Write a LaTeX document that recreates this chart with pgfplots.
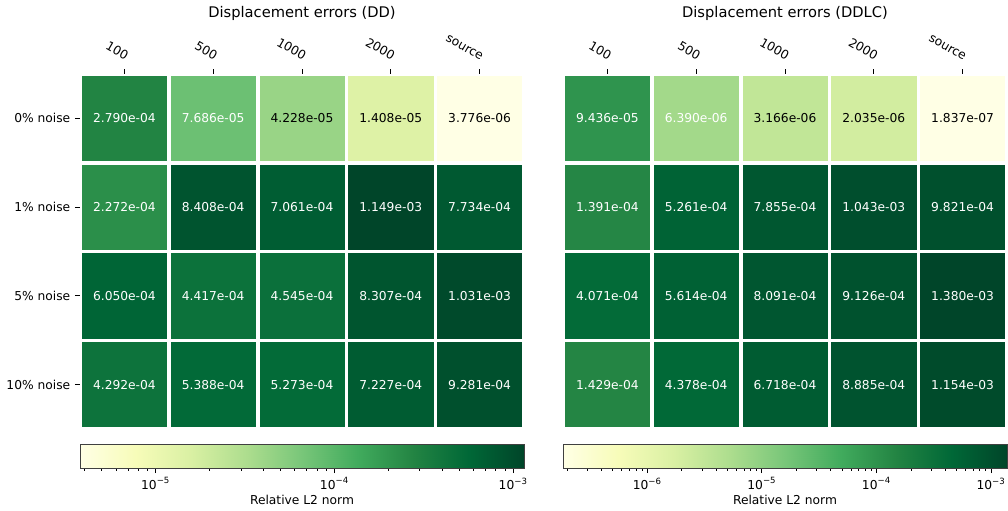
\documentclass[border=0pt]{standalone}
\usepackage{pgfplots}
\pgfplotsset{compat=1.18}
\usepackage{pgfplotstable}
\usepackage{fontspec}
\setmainfont{DejaVu Sans}

\pgfplotstableread{
x y v
0 3 2.790e-04
1 3 7.686e-05
2 3 4.228e-05
3 3 1.408e-05
4 3 3.776e-06
0 2 2.272e-04
1 2 8.408e-04
2 2 7.061e-04
3 2 1.149e-03
4 2 7.734e-04
0 1 6.050e-04
1 1 4.417e-04
2 1 4.545e-04
3 1 8.307e-04
4 1 1.031e-03
0 0 4.292e-04
1 0 5.388e-04
2 0 5.273e-04
3 0 7.227e-04
4 0 9.281e-04
}\dd

\pgfplotstableread{
x y v
0 3 9.436e-05
1 3 6.390e-06
2 3 3.166e-06
3 3 2.035e-06
4 3 1.837e-07
0 2 1.391e-04
1 2 5.261e-04
2 2 7.855e-04
3 2 1.043e-03
4 2 9.821e-04
0 1 4.071e-04
1 1 5.614e-04
2 1 8.091e-04
3 1 9.126e-04
4 1 1.380e-03
0 0 1.429e-04
1 0 4.378e-04
2 0 6.718e-04
3 0 8.885e-04
4 0 1.154e-03
}\ddlc

\newcommand{\lf}{\fontsize{9.2}{11}\selectfont}
\newcommand{\tf}{\fontsize{11}{13}\selectfont}

\pgfplotsset{
  ylgn/.style={colormap={ylgn}{rgb255=(255,255,229) rgb255=(247,252,185) rgb255=(217,240,163) rgb255=(173,221,142) rgb255=(120,198,121) rgb255=(65,171,93) rgb255=(35,132,67) rgb255=(0,104,55) rgb255=(0,69,41)}},
  heat/.style={
    ylgn,
    scale only axis, width=333pt, height=266.25pt,
    xmin=-0.5, xmax=4.5, ymin=-0.5, ymax=3.5,
    axis x line*=top, axis y line*=left,
    axis line style={draw=none},
    xtick={0,1,2,3,4}, xticklabels={100,500,1000,2000,source},
    tick align=outside, major tick length=3.75pt,
    tick style={black, line width=0.6pt},
    xticklabel style={yshift=4.5pt, xshift=1pt, rotate=-30, anchor=south east, inner sep=1pt},
    tick label style={font=\lf},
    clip=false,
  },
  cbar/.style={
    ylgn,
    anchor=north west,
    scale only axis, width=333pt, height=18pt,
    ymin=0, ymax=1, ytick=\empty,
    axis on top,
    axis line style={draw=black!75, line width=0.6pt},
    xtick pos=left, tick align=outside,
    tick style={black, line width=0.6pt},
    major tick length=3.75pt, minor tick length=2.2pt,
    tick label style={font=\lf},
    xlabel={Relative L2 norm}, xlabel style={font=\lf, inner sep=1pt},
  },
  cells/.style={scatter, only marks, mark=square*, mark size=31.6pt,
    scatter/use mapped color={draw=mapped color, fill=mapped color},
    point meta=explicit},
  labs/.style={only marks, mark=*, mark size=0pt, mark options={draw=none, fill=none},
    nodes near coords, point meta=explicit symbolic,
    every node near coord/.append style={font=\lf, anchor=center, text=#1}},
}

\begin{document}
\begin{tikzpicture}
\path[use as bounding box] (-60pt,-61.5pt) rectangle (696pt,321.75pt);

\begin{axis}[heat, at={(0,0)}, anchor=south west,
  ytick={0,1,2,3}, yticklabels={10\% noise,5\% noise,1\% noise,0\% noise},
  point meta min=-5.42297, point meta max=-2.93968]
\addplot[cells] table[x=x,y=y,meta expr={ln(\thisrow{v})/ln(10)}] {\dd};
\addplot[labs=white, skip coords between index={2}{5}] table[x=x,y=y,meta=v] {\dd};
\addplot[labs=black, skip coords between index={0}{2}, skip coords between index={5}{20}] table[x=x,y=y,meta=v] {\dd};
\node[font=\tf, anchor=base, yshift=42.4pt] at (rel axis cs:0.5,1) {Displacement errors (DD)};
\end{axis}

\begin{axis}[cbar, at={(0,-11.25pt)},
  xmin=-5.42297, xmax=-2.93968,
  point meta min=-5.42297, point meta max=-2.93968,
  xtick={-5,-4,-3},
  xticklabels={10\textsuperscript{−5},10\textsuperscript{−4},10\textsuperscript{−3}},
  minor xtick={-5.39794,-5.30103,-5.22185,-5.15490,-5.09691,-5.04576,
    -4.69897,-4.52288,-4.39794,-4.30103,-4.22185,-4.15490,-4.09691,-4.04576,
    -3.69897,-3.52288,-3.39794,-3.30103,-3.22185,-3.15490,-3.09691,-3.04576}]
\addplot[surf, shader=interp, mesh/cols=2, point meta=x] coordinates {(-5.42297,0) (-2.93968,0) (-5.42297,1) (-2.93968,1)};
\end{axis}

\begin{axis}[heat, at={(362.25pt,0)}, anchor=south west,
  ytick=\empty,
  point meta min=-6.73589, point meta max=-2.86012]
\addplot[cells] table[x=x,y=y,meta expr={ln(\thisrow{v})/ln(10)}] {\ddlc};
\addplot[labs=white, skip coords between index={2}{5}] table[x=x,y=y,meta=v] {\ddlc};
\addplot[labs=black, skip coords between index={0}{2}, skip coords between index={5}{20}] table[x=x,y=y,meta=v] {\ddlc};
\node[font=\tf, anchor=base, yshift=42.4pt] at (rel axis cs:0.5,1) {Displacement errors (DDLC)};
\end{axis}

\begin{axis}[cbar, at={(362.25pt,-11.25pt)},
  xmin=-6.73589, xmax=-2.86012,
  point meta min=-6.73589, point meta max=-2.86012,
  xtick={-6,-5,-4,-3},
  xticklabels={10\textsuperscript{−6},10\textsuperscript{−5},10\textsuperscript{−4},10\textsuperscript{−3}},
  minor xtick={-6.69897,-6.52288,-6.39794,-6.30103,-6.22185,-6.15490,-6.09691,-6.04576,
    -5.69897,-5.52288,-5.39794,-5.30103,-5.22185,-5.15490,-5.09691,-5.04576,
    -4.69897,-4.52288,-4.39794,-4.30103,-4.22185,-4.15490,-4.09691,-4.04576,
    -3.69897,-3.52288,-3.39794,-3.30103,-3.22185,-3.15490,-3.09691,-3.04576}]
\addplot[surf, shader=interp, mesh/cols=2, point meta=x] coordinates {(-6.73589,0) (-2.86012,0) (-6.73589,1) (-2.86012,1)};
\end{axis}
\end{tikzpicture}
\end{document}
